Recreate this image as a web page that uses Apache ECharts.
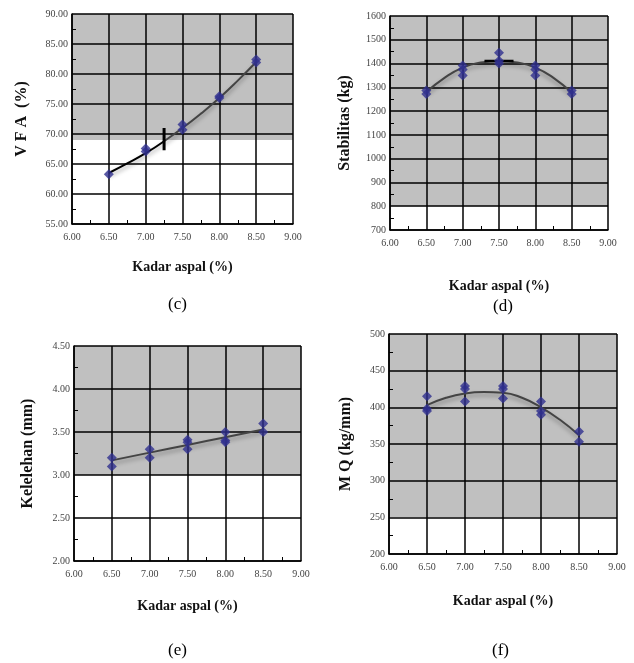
<!DOCTYPE html>
<html>
<head>
<meta charset="utf-8">
<script src="https://cdn.jsdelivr.net/npm/echarts@6/dist/echarts.min.js"></script>
<style>html,body{margin:0;padding:0;background:#fff;}#main{width:634px;height:663px;}</style>
</head>
<body>
<div id="main"></div>
<script>
// X axis (shared)
const xTicks = [6.00, 6.50, 7.00, 7.50, 8.00, 8.50, 9.00];

// (c) VFA
const vfaPoints = [[6.5,63.3],[7.0,67.6],[7.0,67.1],[7.5,71.6],[7.5,70.7],[8.0,76.3],[8.0,76.0],[8.5,82.4],[8.5,81.9]];
const vfaTrendA = [[6.5,63.5],[6.75,65.1],[7.0,66.8],[7.25,68.8]];
const vfaTrendB = [[7.25,68.8],[7.5,71.0],[7.75,73.4],[8.0,76.0],[8.25,78.9],[8.5,82.0]];
const vfaMark = [[7.25,67.3],[7.25,71.0]];
const vfaBand = [69, 90];

// (d) Stabilitas
const stabPoints = [[6.5,1287],[6.5,1272],[7.0,1392],[7.0,1375],[7.0,1350],[7.5,1445],[7.5,1412],[7.5,1400],[8.0,1392],[8.0,1375],[8.0,1350],[8.5,1287],[8.5,1272]];
const stabTrend = [[6.5,1280],[6.75,1340],[7.0,1383],[7.25,1404],[7.5,1410],[7.75,1404],[8.0,1383],[8.25,1340],[8.5,1278]];
const stabMark = [[7.3,1411],[7.7,1411]];
const stabBand = [800, 1600];

// (e) Kelelehan
const flowPoints = [[6.5,3.2],[6.5,3.1],[7.0,3.3],[7.0,3.2],[7.5,3.41],[7.5,3.3],[7.5,3.38],[8.0,3.5],[8.0,3.4],[8.0,3.38],[8.5,3.6],[8.5,3.5]];
const flowTrend = [[6.5,3.17],[7.0,3.26],[7.5,3.35],[8.0,3.44],[8.5,3.53]];
const flowBand = [3.0, 4.5];

// (f) MQ
const mqPoints = [[6.5,415],[6.5,398],[6.5,395],[7.0,429],[7.0,425],[7.0,408],[7.5,429],[7.5,425],[7.5,412],[8.0,408],[8.0,395],[8.0,390],[8.5,367],[8.5,353]];
const mqTrend = [[6.5,403],[6.75,413],[7.0,419],[7.25,421],[7.5,420],[7.75,413],[8.0,400],[8.25,383],[8.5,362]];
const mqBand = [250, 500];

const panels = [
  {grid:{left:72, top:14, width:221, height:210}, y:{min:55, max:90, interval:5, dec:2, name:'V F A  (%)', gap:42}, xname:{gap:36}, cap:{t:'(c)', x:178, y:306}},
  {grid:{left:390, top:16, width:218, height:214}, y:{min:700, max:1600, interval:100, dec:0, name:'Stabilitas (kg)', gap:37}, xname:{gap:49}, cap:{t:'(d)', x:503, y:308}},
  {grid:{left:74, top:346, width:227, height:215}, y:{min:2, max:4.5, interval:0.5, dec:2, name:'Kelelehan (mm)', gap:38}, xname:{gap:38}, cap:{t:'(e)', x:178, y:652}},
  {grid:{left:389, top:334, width:228, height:220}, y:{min:200, max:500, interval:50, dec:0, name:'M Q (kg/mm)', gap:35}, xname:{gap:40}, cap:{t:'(f)', x:502, y:652}}
];

const serif = 'Liberation Serif';
const lineBlack = {color:'#000', width:1.5};
const grids = [], xAxes = [], yAxes = [], series = [], graphics = [];

panels.forEach((p, i) => {
  grids.push(Object.assign({containLabel:false}, p.grid));
  xAxes.push({
    type:'value', gridIndex:i, z:2, min:xTicks[0], max:xTicks[xTicks.length-1], interval:0.5,
    name:'Kadar aspal (%)', nameLocation:'middle', nameGap:p.xname.gap,
    nameTextStyle:{fontFamily:serif, fontWeight:'bold', fontSize:14, color:'#111'},
    axisLine:{show:true, lineStyle:lineBlack},
    axisTick:{show:false, inside:true},
    minorTick:{show:true, splitNumber:2, length:4, lineStyle:{color:'#000', width:1}},
    splitLine:{show:true, lineStyle:lineBlack},
    axisLabel:{fontFamily:serif, fontSize:10, color:'#444', margin:8, formatter:v=>v.toFixed(2)}
  });
  yAxes.push({
    type:'value', gridIndex:i, z:2, min:p.y.min, max:p.y.max, interval:p.y.interval,
    name:p.y.name, nameLocation:'middle', nameGap:p.y.gap,
    nameTextStyle:{fontFamily:serif, fontWeight:'bold', fontSize:16, color:'#111'},
    axisLine:{show:true, lineStyle:lineBlack},
    axisTick:{show:false, inside:true},
    minorTick:{show:true, splitNumber:2, length:4, lineStyle:{color:'#000', width:1}},
    splitLine:{show:true, lineStyle:lineBlack},
    axisLabel:{fontFamily:serif, fontSize:10, color:'#444', margin:4, formatter:v=>v.toFixed(p.y.dec)}
  });
  graphics.push({type:'text', left:p.cap.x - 10, top:p.cap.y - 10,
    style:{text:p.cap.t, font:'17px "Liberation Serif"', fill:'#000'}});
});

const trendStyle = (c) => ({color:c, width:2, shadowColor:'rgba(0,0,0,0.35)', shadowBlur:4, shadowOffsetY:3});
const ptStyle = {color:'#2f2f8f'};

function band(i, b) {
  return {type:'line', xAxisIndex:i, yAxisIndex:i, data:[], silent:true, z:0,
    markArea:{silent:true, z:0, itemStyle:{color:'#c0c0c0'}, data:[[{yAxis:b[0]},{yAxis:b[1]}]]}};
}
function trend(i, d, c) {
  return {type:'line', xAxisIndex:i, yAxisIndex:i, data:d, smooth:true, symbol:'none', lineStyle:trendStyle(c), z:4};
}
function mark(i, d, w) {
  return {type:'line', xAxisIndex:i, yAxisIndex:i, data:d, symbol:'none', lineStyle:{color:'#000', width:w}, z:5};
}
function pts(i, d) {
  return {type:'scatter', xAxisIndex:i, yAxisIndex:i, data:d, symbol:'diamond', symbolSize:10, itemStyle:ptStyle, z:6};
}

series.push(band(0, vfaBand), trend(0, vfaTrendA, '#000'), trend(0, vfaTrendB, '#444'), mark(0, vfaMark, 3), pts(0, vfaPoints));
series.push(band(1, stabBand), trend(1, stabTrend, '#444'), mark(1, stabMark, 2.5), pts(1, stabPoints));
series.push(band(2, flowBand), trend(2, flowTrend, '#444'), pts(2, flowPoints));
series.push(band(3, mqBand), trend(3, mqTrend, '#444'), pts(3, mqPoints));

const chart = echarts.init(document.getElementById('main'));
chart.setOption({
  animation:false,
  backgroundColor:'#fff',
  grid:grids, xAxis:xAxes, yAxis:yAxes, series:series, graphic:graphics
});
</script>
</body>
</html>
